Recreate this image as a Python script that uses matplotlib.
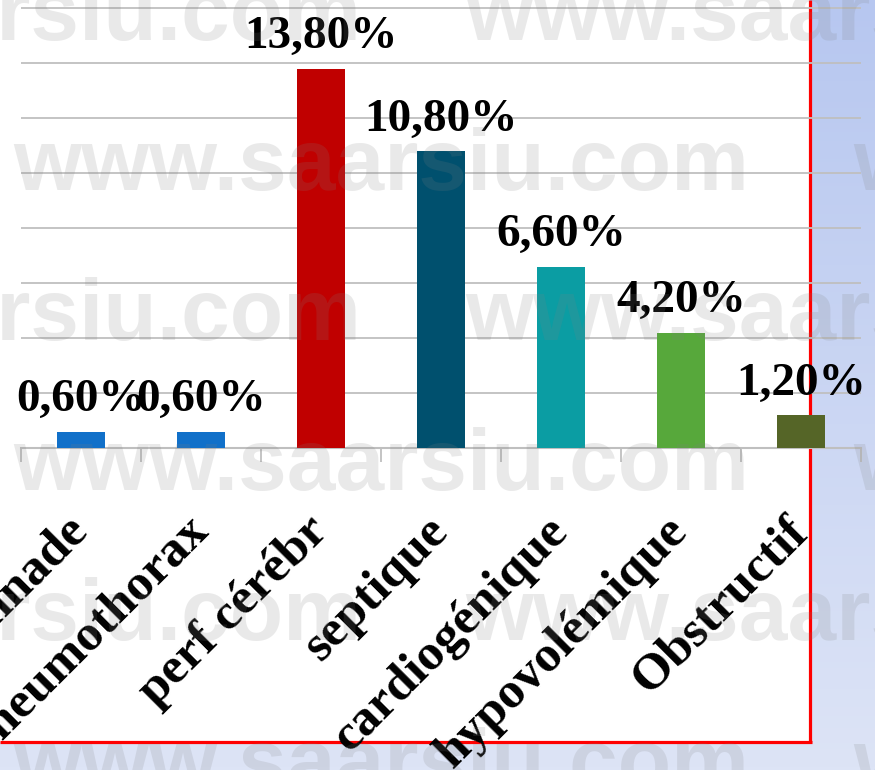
import numpy as np
import matplotlib.pyplot as plt
from matplotlib.patches import Rectangle

# données
categories = ['Tamponnade', 'Pneumothorax', 'perf cérébr', 'septique',
              'cardiogénique', 'hypovolémique', 'Obstructif']
values = [0.6, 0.6, 13.8, 10.8, 6.6, 4.2, 1.2]
value_labels = ['0,60%', '0,60%', '13,80%', '10,80%', '6,60%', '4,20%', '1,20%']
colors = ['#1170C9', '#1170C9', '#C00000', '#00506E', '#0B9DA3', '#57A83B', '#556527']

W, H = 875, 770
fig = plt.figure(figsize=(W / 100, H / 100), dpi=100)

# fond: dégradé bleu + cadre blanc à bord rouge
bg = fig.add_axes([0, 0, 1, 1], zorder=0)
bg.set_xlim(0, W)
bg.set_ylim(H, 0)
bg.axis('off')
top_c = np.array([183, 199, 240]) / 255
bot_c = np.array([221, 228, 246]) / 255
t = np.linspace(0, 1, 256)[:, None]
grad = (top_c[None, :] * (1 - t) + bot_c[None, :] * t)[:, None, :]
bg.imshow(grad, extent=[0, W, H, 0], aspect='auto', zorder=0)
bg.add_patch(Rectangle((0, 0), 810, 742, facecolor='white', edgecolor='none', zorder=1))
bg.plot([810, 810], [0, 742], color='red', lw=2.3, zorder=2, solid_capstyle='butt')
bg.plot([0, 811.5], [742, 742], color='red', lw=2.3, zorder=2, solid_capstyle='butt')

# graphique
ymax = 16.3
px_unit = 27.5
ax = fig.add_axes([21 / W, 322 / H, 840 / W, ymax * px_unit / H], zorder=1)
ax.patch.set_alpha(0)
x = np.arange(len(categories))
ax.bar(x, values, width=0.4, color=colors, zorder=3)
ax.set_xlim(-0.5, len(categories) - 0.5)
ax.set_ylim(0, ymax)
ax.set_yticks(np.arange(0, 17, 2))
ax.yaxis.grid(True, color='#BFBFBF', lw=1.3, zorder=0)
ax.set_axisbelow(True)
for s in ['top', 'left', 'right']:
    ax.spines[s].set_visible(False)
ax.spines['bottom'].set_color('#BFBFBF')
ax.spines['bottom'].set_linewidth(1.5)
ax.tick_params(axis='y', left=False, labelleft=False)

ax.set_xticks(x)
ax.set_xticks(np.arange(-0.5, len(categories)), minor=True)
ax.tick_params(axis='x', which='minor', length=10, width=1.3, color='#BFBFBF', direction='out')
ax.tick_params(axis='x', which='major', length=0, pad=55)
ax.set_xticklabels(categories, rotation=45, ha='right', va='center', rotation_mode='anchor',
                   fontsize=37, fontweight='bold', family='Liberation Serif')

for xi, v, lab in zip(x, values, value_labels):
    ax.annotate(lab, (xi, v), xytext=(0, 14.5), textcoords='offset points',
                ha='center', va='baseline', fontsize=34, fontweight='bold',
                family='Liberation Serif', color='black', zorder=5)

# filigrane
wm = fig.add_axes([0, 0, 1, 1], zorder=3)
wm.set_xlim(0, W)
wm.set_ylim(H, 0)
wm.axis('off')
for i, base in enumerate([40, 190, 340, 490, 640, 790]):
    start = 465 if i % 2 == 0 else 13
    for k in range(-1, 2):
        wm.text(start + 840 * k, base, 'www.saarsiu.com', fontsize=63, fontweight='bold',
                family='Liberation Sans', color='#808080', alpha=0.17,
                ha='left', va='baseline')

fig.savefig('out.png', dpi=100)
